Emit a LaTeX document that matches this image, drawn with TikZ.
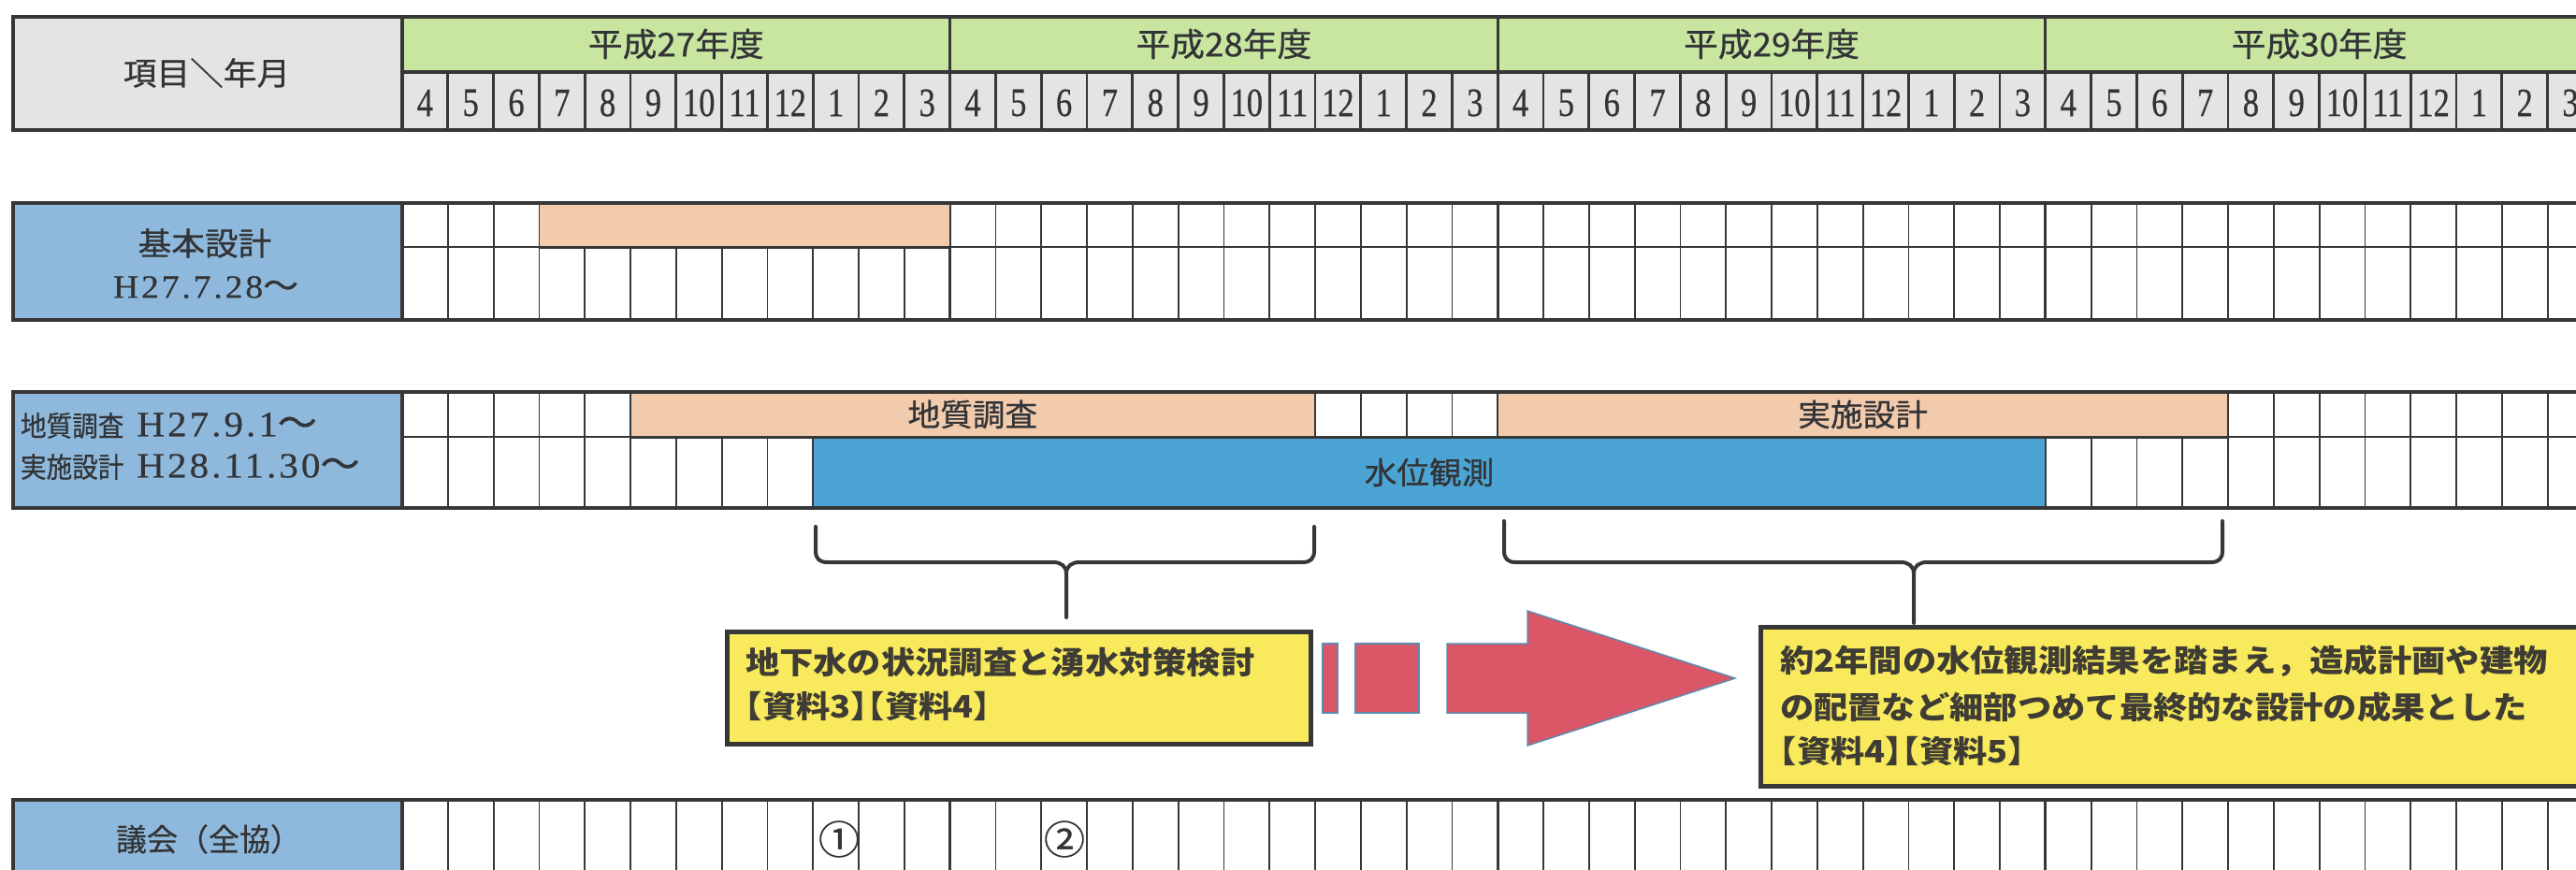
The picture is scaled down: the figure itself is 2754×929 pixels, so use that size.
\documentclass[tikz,border=0pt]{standalone}
\usepackage{fontspec}
\usepackage{graphicx}
\setmainfont{Liberation Serif}
\newfontfamily\jp[FakeBold=0.6]{Noto Sans CJK JP}
\newfontfamily\jpw[FakeStretch=1.05,FakeBold=0.7]{Noto Sans CJK JP}
\newfontfamily\jpbx[FakeStretch=1.1]{Noto Sans CJK JP}
\newfontfamily\jpwh[FakeStretch=1.1,RawFeature=+halt]{Noto Sans CJK JP}
\newfontfamily\jpn[FakeStretch=0.92,FakeBold=0.6]{Noto Sans CJK JP}
\newfontfamily\digf[FakeStretch=0.8,FakeBold=0.6]{Liberation Serif}
\newfontfamily\latf[FakeStretch=1.08,LetterSpace=8,FakeBold=0.5]{Liberation Serif}
\newcommand\fsz[1]{\fontsize{#1}{#1}\selectfont}
\definecolor{hgray}{RGB}{228,228,226}
\definecolor{hgreen}{RGB}{200,230,160}
\definecolor{lblue}{RGB}{143,185,220}
\definecolor{bluebar}{RGB}{76,164,212}
\definecolor{orangec}{RGB}{242,202,172}
\definecolor{yfill}{RGB}{248,234,92}
\definecolor{redc}{RGB}{219,86,102}
\definecolor{arrowedge}{RGB}{90,140,175}
\definecolor{linec}{RGB}{55,55,55}
\definecolor{textc}{RGB}{50,52,55}
\definecolor{boxtextc}{RGB}{62,60,52}
\begin{document}
\begin{tikzpicture}[x=1pt,y=-1pt,
  gline/.style={draw=linec,line width=1.8pt},
  hline/.style={draw=linec,line width=2.8pt},
  yline/.style={draw=linec,line width=3.2pt},
  bline/.style={draw=linec,line width=4.5pt},
  txt/.style={text=textc,inner sep=0pt,outer sep=0pt},
  yeartxt/.style={txt,font=\jpw\fsz{35}},
  monthtxt/.style={txt,font=\digf\fsz{43}},
  labtxt/.style={txt,font=\jpw\fsz{34}},
  lab2txt/.style={txt,font=\jpn\fsz{30},anchor=west},
  bartxt/.style={draw=linec,line width=1.8pt,inner sep=0pt,text=textc,font=\jpw\fsz{33}},
  boxtxt/.style={txt,font=\jpbx\bfseries\fsz{33},anchor=west,text=boxtextc},
  boxtxth/.style={txt,font=\jpwh\bfseries\fsz{33},anchor=west,text=boxtextc},
  ybox/.style={draw=linec,line width=4.5pt,fill=yfill,inner sep=0pt,anchor=north west},
  brace/.style={draw=linec,line width=4pt,line cap=round},
  arrowpart/.style={fill=redc,draw=arrowedge,line width=1.5pt},
]
\useasboundingbox (0,0) rectangle (2754,929);
\clip (0,0) rectangle (2754,929);
\fill[white] (0,0) rectangle (2754,929);

% ---------- header ----------
\fill[hgray] (14,18) rectangle (430,139);
\fill[hgreen] (430,18) rectangle (2790,77);
\fill[hgray] (430,77) rectangle (2790,139);
\foreach \i in {1,...,48}{\draw[hline] ({430+48.8*\i},77) -- ({430+48.8*\i},139);}
\foreach \i in {0,...,4}{\draw[yline] ({430+585.6*\i},18) -- ({430+585.6*\i},139);}
\draw[yline] (430,77) -- (2790,77);
\draw[bline] (12,18) -- (2790,18);
\draw[bline] (12,139) -- (2790,139);
\draw[bline] (14,16) -- (14,141);
\node[labtxt] (hdr) at (221,78) {項目＼年月};
\foreach \y/\t in {0/27,1/28,2/29,3/30}{\node[yeartxt] (yr\t) at ({722.8+585.6*\y},47) {平成{\t}年度};}
\foreach \y in {0,...,3}{
  \foreach \m [count=\k from 0] in {4,5,6,7,8,9,10,11,12,1,2,3}{
    \node[monthtxt] (m\y-\k) at ({454.4+48.8*(12*\y+\k)},110) {\m};}}

% ---------- row 1 ----------
\fill[lblue] (14,217) rectangle (430,342);
\fill[white] (430,217) rectangle (2790,342);
\foreach \i in {1,...,48}{\draw[gline] ({430+48.8*\i},217) -- ({430+48.8*\i},342);}
\foreach \i in {1,2,3}{\draw[yline] ({430+585.6*\i},217) -- ({430+585.6*\i},342);}
\node[bartxt,fill=orangec,minimum width=439.2,minimum height=47] (kihonbar) at (796,240.5) {};
\draw[gline] (430,264) -- (2790,264);
\draw[draw=linec,line width=3pt] (576.4,264) -- (1015.6,264);
\draw[bline] (12,217) -- (2790,217);
\draw[bline] (12,342) -- (2790,342);
\draw[bline] (14,217) -- (14,342);
\draw[yline] (430,217) -- (430,342);
\node[labtxt] (lab1a) at (219,260) {基本設計};
\node[txt] (lab1b) at (220,307) {{\latf\fsz{35}H27.7.28}{\jpw\fsz{36}～}};

% ---------- row 2 ----------
\fill[lblue] (14,419) rectangle (430,543);
\fill[white] (430,419) rectangle (2790,543);
\foreach \i in {1,...,48}{\draw[gline] ({430+48.8*\i},419) -- ({430+48.8*\i},543);}
\foreach \i in {1,2,3}{\draw[yline] ({430+585.6*\i},419) -- ({430+585.6*\i},543);}
\node[bartxt,fill=orangec,minimum width=731.6,minimum height=48] (geo) at (1039.8,443) {地質調査};
\node[bartxt,fill=orangec,minimum width=780.8,minimum height=48] (jisshi) at (1991.6,443) {実施設計};
\node[bartxt,fill=bluebar,minimum width=1317.6,minimum height=76] (suii) at (1528,505) {水位観測};
\draw[gline] (430,467) -- (2790,467);
\draw[draw=linec,line width=3pt] (674,467) -- (2382,467);
\draw[bline] (12,419) -- (2790,419);
\draw[bline] (12,543) -- (2790,543);
\draw[bline] (14,419) -- (14,543);
\draw[yline] (430,419) -- (430,543);
\node[lab2txt] (lab2a) at (22,455) {地質調査\hspace{14pt}{\latf\fsz{38}H27.9.1}{\jpw\fsz{40}～}};
\node[lab2txt] (lab2b) at (22,499) {実施設計\hspace{14pt}{\latf\fsz{38}H28.11.30}{\jpw\fsz{40}～}};

% ---------- row 3 ----------
\fill[lblue] (14,855) rectangle (430,950);
\fill[white] (430,855) rectangle (2790,950);
\foreach \i in {1,...,48}{\draw[gline] ({430+48.8*\i},855) -- ({430+48.8*\i},950);}
\foreach \i in {1,2,3}{\draw[yline] ({430+585.6*\i},855) -- ({430+585.6*\i},950);}
\draw[bline] (12,855) -- (2790,855);
\draw[bline] (14,855) -- (14,950);
\draw[yline] (430,855) -- (430,950);
\node[txt,font=\jp\fsz{33}] (lab3) at (223,897) {議会（全協）};
\node[txt,font=\jpw\fsz{42}] (c1) at (897,897) {①};
\node[txt,font=\jpw\fsz{42}] (c2) at (1138,897) {②};

% ---------- braces ----------
\coordinate (b1l) at (872,563);
\coordinate (b1r) at (1405,563);
\coordinate (b1t) at (1140,660);
\draw[brace] (b1l) -- (872,589) .. controls (872,597) and (876,601) .. (884,601) -- (1126,601)
  .. controls (1134,601) and (1140,605) .. (1140,613) -- (b1t);
\draw[brace] (1140,613) .. controls (1140,605) and (1146,601) .. (1154,601) -- (1393,601)
  .. controls (1401,601) and (1405,597) .. (1405,589) -- (b1r);
\coordinate (b2l) at (1608,557);
\coordinate (b2r) at (2376,557);
\coordinate (b2t) at (2046,666);
\draw[brace] (b2l) -- (1608,589) .. controls (1608,597) and (1612,601) .. (1620,601) -- (2032,601)
  .. controls (2040,601) and (2046,605) .. (2046,613) -- (b2t);
\draw[brace] (2046,613) .. controls (2046,605) and (2052,601) .. (2060,601) -- (2364,601)
  .. controls (2372,601) and (2376,597) .. (2376,589) -- (b2r);

% ---------- boxes ----------
\node[ybox,minimum width=624,minimum height=120] (box1) at (775,673) {};
\node[boxtxt] (t1a) at (797,708) {地下水の状況調査と湧水対策検討};
\node[boxtxth] (t1b) at (797,755) {【資料3】【資料4】};
\node[ybox,minimum width=920,minimum height=170] (box2) at (1880,668) {};
\node[boxtxt] (t2a) at (1903,707) {約2年間の水位観測結果を踏まえ，造成計画や建物};
\node[boxtxt] (t2b) at (1903,756) {の配置など細部つめて最終的な設計の成果とした};
\node[boxtxth] (t2c) at (1903,803) {【資料4】【資料5】};

% ---------- arrow ----------
\filldraw[arrowpart] (1414,688) rectangle (1430,762);
\filldraw[arrowpart] (1449,688) rectangle (1517,762);
\filldraw[arrowpart] (1547,688) -- (1633,688) -- (1633,653) -- (1855,725) -- (1633,797)
  -- (1633,762) -- (1547,762) -- cycle;
\end{tikzpicture}
\end{document}
